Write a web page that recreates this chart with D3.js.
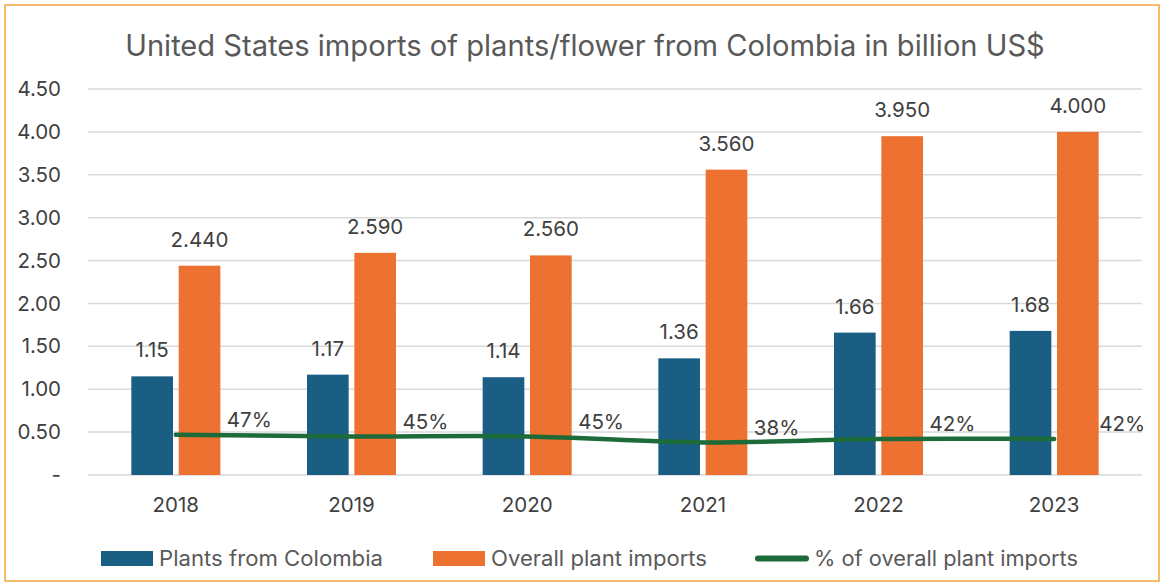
<!DOCTYPE html>
<html>
<head>
<meta charset="utf-8">
<script src="https://cdn.jsdelivr.net/npm/d3@7"></script>
<style>
  html, body { margin: 0; padding: 0; background: #fff; }
  svg { display: block; }
  text { font-family: Inter, "Open Sans", "DejaVu Sans", sans-serif; }
</style>
</head>
<body>
<svg id="chart" width="1162" height="583"></svg>
<script>
// Chart data
const years = ["2018", "2019", "2020", "2021", "2022", "2023"];
const colombia = [1.15, 1.17, 1.14, 1.36, 1.66, 1.68];
const overall = [2.44, 2.59, 2.56, 3.56, 3.95, 4.00];
const share = [0.47, 0.45, 0.45, 0.38, 0.42, 0.42];
const yTicks = [0, 0.5, 1, 1.5, 2, 2.5, 3, 3.5, 4, 4.5];
const seriesNames = ["Plants from Colombia", "Overall plant imports", "% of overall plant imports"];
const titleText = "United States imports of plants/flower from Colombia in billion US$";

const colors = { blue: "#1B5E83", orange: "#ED7131", green: "#1C6B38", text: "#404040", grid: "#D9D9D9" };
const labelSize = 20.5;

const svg = d3.select("#chart");
const W = 1162, H = 583;
const plot = { left: 88, right: 1142, top: 89, bottom: 475 };

// Outer frame
svg.append("rect")
  .attr("x", 5).attr("y", 5).attr("width", W - 8).attr("height", H - 7)
  .attr("fill", "#fff").attr("stroke", "#F2A43C").attr("stroke-width", 1.5);

// Title, fitted to its width
const title = svg.append("text")
  .attr("x", 585).attr("y", 56)
  .attr("text-anchor", "middle")
  .attr("fill", "#595959")
  .attr("font-size", 26)
  .text(titleText);
const tw = title.node().getComputedTextLength();
title.attr("font-size", 26 * 920 / tw);

const x = d3.scaleBand().domain(years).range([plot.left, plot.right]);
const y = d3.scaleLinear().domain([0, 4.5]).range([plot.bottom, plot.top]);

// Gridlines
svg.append("g").selectAll("line").data(yTicks).join("line")
  .attr("x1", plot.left).attr("x2", plot.right)
  .attr("y1", d => y(d)).attr("y2", d => y(d))
  .attr("stroke", colors.grid).attr("stroke-width", 1.5);

// Y axis labels
const yAxis = d3.axisLeft(y).tickValues(yTicks)
  .tickFormat(d => d === 0 ? "-" : d3.format(".2f")(d))
  .tickSize(0).tickPadding(0);
const yg = svg.append("g").attr("transform", `translate(61,0)`).call(yAxis);
yg.select(".domain").remove();
yg.selectAll("text").attr("font-size", labelSize).attr("fill", colors.text)
  .attr("font-family", "Inter, 'Open Sans', sans-serif");

// X axis labels
const xAxis = d3.axisBottom(x).tickSize(0).tickPadding(0);
const xg = svg.append("g").attr("transform", `translate(0,${plot.bottom + 22})`).call(xAxis);
xg.select(".domain").remove();
xg.selectAll("text").attr("font-size", labelSize).attr("fill", colors.text)
  .attr("font-family", "Inter, 'Open Sans', sans-serif");

// Bars within each category
const inner = d3.scaleBand().domain(["colombia", "overall"]).range([0, 89]).paddingInner(0.12);
const groupOffset = (x.bandwidth() - 89) / 2;
const barW = inner.bandwidth();

const rows = years.map((yr, i) => ({ yr, colombia: colombia[i], overall: overall[i], share: share[i] }));

const groups = svg.append("g").selectAll("g").data(rows).join("g")
  .attr("transform", d => `translate(${x(d.yr) + groupOffset},0)`);

groups.append("rect")
  .attr("x", inner("colombia")).attr("width", barW)
  .attr("y", d => y(d.colombia)).attr("height", d => y(0) - y(d.colombia))
  .attr("fill", colors.blue);
groups.append("rect")
  .attr("x", inner("overall")).attr("width", barW)
  .attr("y", d => y(d.overall)).attr("height", d => y(0) - y(d.overall))
  .attr("fill", colors.orange);

// Bar value labels
groups.append("text")
  .attr("x", inner("colombia") + barW / 2)
  .attr("y", d => y(d.colombia) - 19)
  .attr("text-anchor", "middle").attr("font-size", labelSize).attr("fill", colors.text)
  .text(d => d3.format(".2f")(d.colombia));
groups.append("text")
  .attr("x", inner("overall") + barW / 2)
  .attr("y", d => y(d.overall) - 19)
  .attr("text-anchor", "middle").attr("font-size", labelSize).attr("fill", colors.text)
  .text(d => d3.format(".3f")(d.overall));

// Share line, plotted on the same axis
const cx = d => x(d.yr) + x.bandwidth() / 2;
const line = d3.line().x(cx).y(d => y(d.share)).curve(d3.curveCatmullRom.alpha(0.5));
svg.append("path").datum(rows)
  .attr("d", line)
  .attr("fill", "none").attr("stroke", colors.green)
  .attr("stroke-width", 4.5).attr("stroke-linecap", "round");

svg.append("g").selectAll("text").data(rows).join("text")
  .attr("x", (d, i) => cx(d) + (i === rows.length - 1 ? 45 : 51))
  .attr("y", d => y(d.share) - 7.5)
  .attr("font-size", labelSize).attr("fill", colors.text)
  .text(d => d3.format(".0%")(d.share));

// Legend
const legendItems = [
  { name: seriesNames[0], type: "rect", color: colors.blue, x: 101, w: 52, tx: 159, tw: 224 },
  { name: seriesNames[1], type: "rect", color: colors.orange, x: 433, w: 52, tx: 491, tw: 216 },
  { name: seriesNames[2], type: "line", color: colors.green, x: 755, w: 54, tx: 814, tw: 264 }
];
const lg = svg.append("g").selectAll("g").data(legendItems).join("g");
lg.filter(d => d.type === "rect").append("rect")
  .attr("x", d => d.x).attr("y", 551).attr("width", d => d.w).attr("height", 15)
  .attr("fill", d => d.color);
lg.filter(d => d.type === "line").append("line")
  .attr("x1", d => d.x + 3).attr("x2", d => d.x + d.w - 3)
  .attr("y1", 558.5).attr("y2", 558.5)
  .attr("stroke", d => d.color).attr("stroke-width", 6).attr("stroke-linecap", "round");
lg.append("text")
  .attr("x", d => d.tx).attr("y", 566)
  .attr("font-size", 21).attr("fill", "#595959")
  .attr("textLength", d => d.tw).attr("lengthAdjust", "spacingAndGlyphs")
  .text(d => d.name);
</script>
</body>
</html>
